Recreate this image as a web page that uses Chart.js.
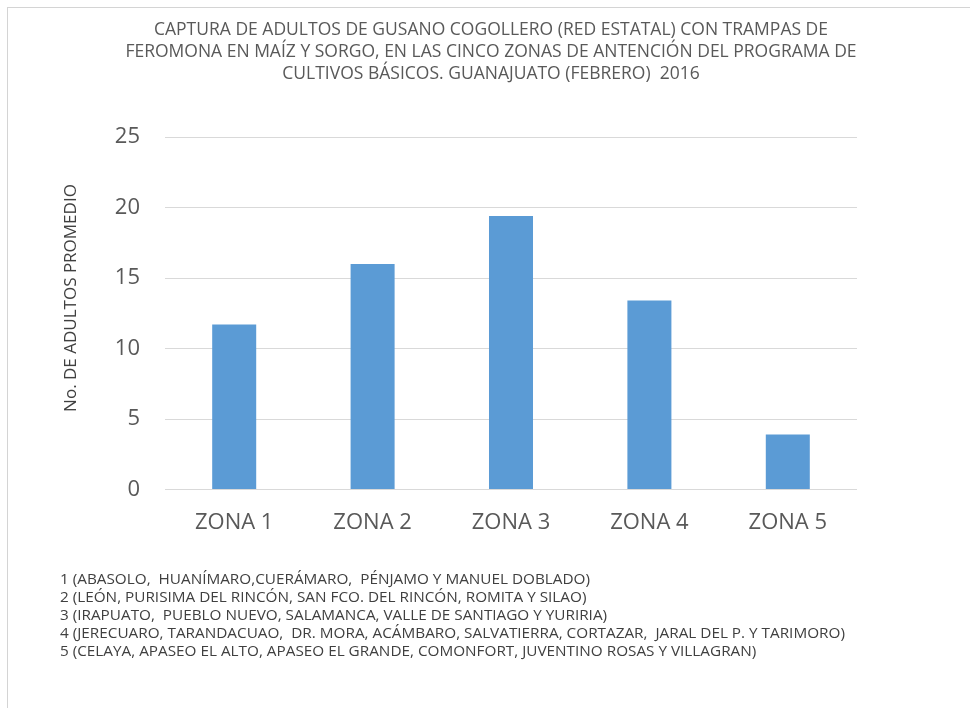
<!DOCTYPE html>
<html>
<head>
<meta charset="utf-8">
<script src="https://cdn.jsdelivr.net/npm/chart.js@4"></script>
<style>
  html, body { margin: 0; padding: 0; background: #ffffff; }
  #wrap { position: relative; width: 970px; height: 708px; overflow: hidden; background: #fff; }
  #frame { position: absolute; left: 7px; top: 7px; width: 1200px; height: 1200px;
           border-top: 1px solid #d4d4d4; border-left: 1px solid #d4d4d4; }
  #c { position: absolute; left: 0; top: 0; }
  #title { position: absolute; left: 91px; width: 800px; top: 17px; text-align: center;
           font-family: "Open Sans", sans-serif; font-size: 17.5px; line-height: 22px;
           color: #595959; white-space: pre; }
  #ytitle { position: absolute; left: 70px; top: 298px; width: 300px; height: 22px;
            margin-left: -150px; margin-top: -11px; line-height: 22px; text-align: center;
            transform: rotate(-90deg); font-family: "Open Sans", sans-serif; font-size: 17px;
            color: #404040; white-space: pre; }
  #notes { position: absolute; left: 60px; top: 569px; font-family: "Open Sans", sans-serif;
           font-size: 15.3px; line-height: 18px; color: #404040; white-space: pre; }
</style>
</head>
<body>
<div id="wrap">
  <div id="frame"></div>
  <canvas id="c" width="970" height="708"></canvas>
  <div id="title"></div>
  <div id="ytitle"></div>
  <div id="notes"></div>
</div>
<script>
const titleLines = [
  "CAPTURA DE ADULTOS DE GUSANO COGOLLERO (RED ESTATAL) CON TRAMPAS DE",
  "FEROMONA EN MAÍZ Y SORGO, EN LAS CINCO ZONAS DE ANTENCIÓN DEL PROGRAMA DE",
  "CULTIVOS BÁSICOS. GUANAJUATO (FEBRERO)  2016"
];
const categories = ["ZONA 1", "ZONA 2", "ZONA 3", "ZONA 4", "ZONA 5"];
const adultosPromedio = [11.7, 16.0, 19.4, 13.4, 3.9];
const yTicks = [0, 5, 10, 15, 20, 25];
const yAxisTitle = "No. DE ADULTOS PROMEDIO";
const footnotes = [
  "1 (ABASOLO,  HUANÍMARO,CUERÁMARO,  PÉNJAMO Y MANUEL DOBLADO)",
  "2 (LEÓN, PURISIMA DEL RINCÓN, SAN FCO. DEL RINCÓN, ROMITA Y SILAO)",
  "3 (IRAPUATO,  PUEBLO NUEVO, SALAMANCA, VALLE DE SANTIAGO Y YURIRIA)",
  "4 (JERECUARO, TARANDACUAO,  DR. MORA, ACÁMBARO, SALVATIERRA, CORTAZAR,  JARAL DEL P. Y TARIMORO)",
  "5 (CELAYA, APASEO EL ALTO, APASEO EL GRANDE, COMONFORT, JUVENTINO ROSAS Y VILLAGRAN)"
];

document.getElementById('title').textContent = titleLines.join("\n");
document.getElementById('ytitle').textContent = yAxisTitle;
document.getElementById('notes').textContent = footnotes.join("\n");

new Chart(document.getElementById('c'), {
  type: 'bar',
  data: {
    labels: categories,
    datasets: [{
      data: adultosPromedio,
      backgroundColor: '#5b9bd5',
      borderWidth: 0,
      barPercentage: 1,
      categoryPercentage: 0.318
    }]
  },
  options: {
    responsive: false,
    animation: false,
    devicePixelRatio: 1,
    layout: { padding: { left: 58, right: 113, top: 137, bottom: 160 } },
    plugins: {
      legend: { display: false },
      tooltip: { enabled: false },
      title: { display: false }
    },
    scales: {
      x: {
        grid: { display: false },
        border: { display: false },
        ticks: { color: '#595959', font: { family: 'Open Sans', size: 22 }, padding: 12 }
      },
      y: {
        min: 0, max: 25,
        afterFit: (s) => { s.width = 107; },
        afterBuildTicks: (s) => { s.ticks = yTicks.map(v => ({ value: v })); },
        grid: { color: '#d9d9d9', drawTicks: false },
        border: { display: false },
        ticks: { color: '#595959', font: { family: 'Open Sans', size: 22 }, padding: 25 }
      }
    }
  }
});
</script>
</body>
</html>
